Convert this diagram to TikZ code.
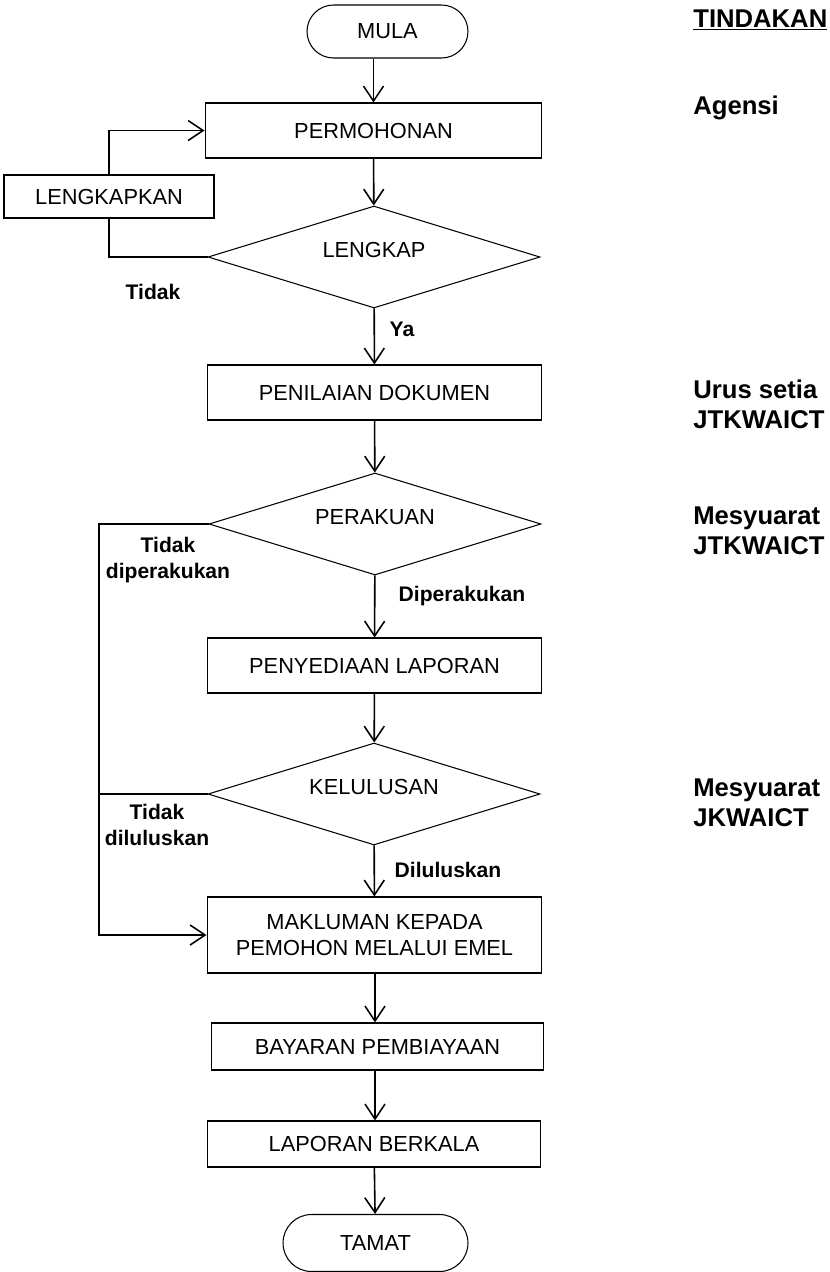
\documentclass[tikz,border=0pt]{standalone}
\usepackage{fontspec}
\setmainfont{Liberation Sans}
\usetikzlibrary{shapes.geometric,arrows.meta,positioning}

\begin{document}
\begin{tikzpicture}[x=0.02cm,y=-0.02cm,
  font=\fontsize{12.4}{14.8}\selectfont,
  kotak/.style={draw,line width=0.6pt,minimum width=6.7cm,minimum height=1.1cm,align=center},
  hujung/.style={draw,line width=0.6pt,rounded corners=0.53cm,minimum height=1.06cm},
  keputusan/.style={diamond,draw,line width=0.6pt,aspect=3.25,minimum width=6.64cm,minimum height=2.04cm,inner sep=0pt,text height=3.2mm,text depth=2.9mm},
  anak/.style={line width=0.9pt,-{Straight Barb[width=4mm,length=3mm]}},
  garis/.style={line width=0.9pt},
  lbl/.style={font=\fontsize{12}{14.7}\selectfont\bfseries,align=center},
  tindak/.style={font=\fontsize{14.6}{16.9}\selectfont\bfseries,align=left,anchor=west,inner sep=0pt}]

  \useasboundingbox (0,0) rectangle (830,1272);

  % carta alir
  \node[hujung,minimum width=3.22cm] (mula) at (387.5,31.5) {MULA};
  \node[kotak,minimum width=6.74cm] (mohon) at (373.5,130.5) {PERMOHONAN};
  \node[keputusan] (lengkap) at (374,257) {LENGKAP};
  \node[kotak,minimum width=4.2cm,minimum height=0.86cm] (lengkapkan) at (109,196.5) {LENGKAPKAN};
  \node[kotak] (nilai) at (374.5,392.5) {PENILAIAN DOKUMEN};
  \node[keputusan] (perakuan) at (375,524) {PERAKUAN};
  \node[kotak] (sedia) at (374.5,665.5) {PENYEDIAAN LAPORAN};
  \node[keputusan] (lulus) at (374,794) {KELULUSAN};
  \node[kotak,minimum height=1.52cm] (maklum) at (374.5,935) {MAKLUMAN KEPADA\\PEMOHON MELALUI EMEL};
  \node[kotak,minimum width=6.66cm,minimum height=0.94cm] (bayar) at (377.5,1046.5) {BAYARAN PEMBIAYAAN};
  \node[kotak,minimum width=6.66cm,minimum height=0.92cm] (berkala) at (374,1144) {LAPORAN BERKALA};
  \node[hujung,minimum width=3.7cm,minimum height=1.14cm,rounded corners=0.57cm] (tamat) at (375.5,1243) {TAMAT};

  % anak panah
  \draw[anak] (mula.south -| mohon.north) -- (mohon.north);
  \draw[anak] (mohon) -- (lengkap);
  \draw[anak] (lengkap) -- (nilai);
  \draw[anak] (nilai) -- (perakuan);
  \draw[anak] (perakuan) -- (sedia);
  \draw[anak] (sedia) -- (lulus);
  \draw[anak] (lulus) -- (maklum);
  \draw[anak] (maklum.south -| 375,0) -- (bayar.north -| 375,0);
  \draw[anak] (bayar.south -| 375,0) -- (berkala.north -| 375,0);
  \draw[anak] (berkala) -- (tamat);

  \draw[garis] (lengkap.west) -| (lengkapkan.south);
  \draw[anak] (lengkapkan.north) |- (mohon.west);
  \coordinate (kiri) at (99,524);
  \draw[anak] (perakuan.west) -- (kiri) |- (maklum.west);
  \draw[garis] (lulus.west) -- (lulus.west -| kiri);

  % label
  \node[lbl] (tidak1) at (153,292) {Tidak};
  \node[lbl] (ya) at (402,329) {Ya};
  \node[lbl] (tidak2) at (168,560) {Tidak\\diperakukan};
  \node[lbl] (diperakukan) at (462,596) {Diperakukan};
  \node[lbl] (tidak3) at (157,825) {Tidak\\diluluskan};
  \node[lbl] (diluluskan) at (448,870) {Diluluskan};

  % tindakan
  \node[tindak] (tindakan) at (693,20) {\underline{TINDAKAN}};
  \node[tindak] (agensi) at (693,108) {Agensi};
  \node[tindak] (urus) at (693,404) {Urus setia\\JTKWAICT};
  \node[tindak] (mesy1) at (693,531) {Mesyuarat\\JTKWAICT};
  \node[tindak] (mesy2) at (693,803) {Mesyuarat\\JKWAICT};
\end{tikzpicture}
\end{document}
